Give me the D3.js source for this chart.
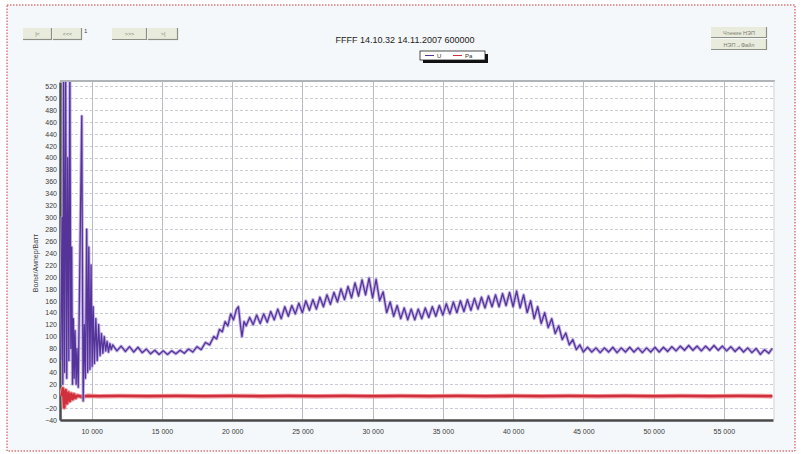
<!DOCTYPE html>
<html>
<head>
<meta charset="utf-8">
<script src="https://cdn.jsdelivr.net/npm/d3@7"></script>
<style>
  html, body { margin: 0; padding: 0; background: #ffffff; }
  svg { display: block; font-family: "Liberation Sans", Arial, sans-serif; }
</style>
</head>
<body>
<svg id="chart" width="801" height="454"></svg>
<script>
// ---- data ----
const chartTitle = "FFFF 14.10.32 14.11.2007 600000";
const yAxisTitle = "Вольт/Ампер/Ватт";
const seriesNames = ["U", "Pa"];

const xTicks = [10000, 15000, 20000, 25000, 30000, 35000, 40000, 45000, 50000, 55000];
const xTickLabels = ["10 000", "15 000", "20 000", "25 000", "30 000", "35 000", "40 000", "45 000", "50 000", "55 000"];
const yTicks = [-40, -20, 0, 20, 40, 60, 80, 100, 120, 140, 160, 180, 200, 220, 240, 260, 280, 300,
                320, 340, 360, 380, 400, 420, 440, 460, 480, 500, 520];

// voltage trace: [sample, value]
const seriesU = [
  [7800, 60], [7900, 300], [7950, 20], [8000, 540], [8080, 40], [8150, 560], [8230, 30], [8300, 400],
  [8380, 60], [8450, 560], [8520, 80], [8580, 250], [8640, 20], [8700, 130], [8760, 30], [8820, 110],
  [8900, 20], [8960, 80], [9050, 15], [9150, 200], [9300, 470], [9360, 150], [9400, -8], [9480, 120],
  [9560, 30], [9650, 280], [9720, 40], [9800, 250], [9880, 45], [9960, 220], [10040, 50], [10110, 150],
  [10200, 55], [10300, 130], [10400, 60], [10500, 120], [10600, 68], [10700, 105], [10800, 72], [10900, 100],
  [11000, 76], [11100, 92], [11200, 74], [11300, 88], [11400, 78],
  [11500, 86], [11800, 76], [12100, 84], [12400, 75], [12700, 83], [13000, 74], [13300, 82], [13600, 73],
  [13900, 79], [14200, 71], [14500, 77], [14800, 70], [15100, 76], [15400, 70], [15700, 76], [16000, 71],
  [16300, 77], [16600, 72], [16900, 79], [17200, 74], [17500, 83], [17800, 78], [18100, 90], [18400, 86],
  [18700, 100], [18900, 96], [19100, 112], [19300, 108], [19500, 125], [19700, 118], [19900, 138], [20100, 128],
  [20300, 145], [20450, 150], [20600, 118], [20700, 100], [20850, 125], [21000, 118], [21250, 132], [21500, 120],
  [21750, 136], [22000, 122], [22250, 138], [22500, 124], [22750, 142], [23000, 128], [23250, 146], [23500, 130],
  [23750, 150], [24000, 134], [24250, 152], [24500, 138], [24750, 156], [25000, 140], [25250, 160], [25500, 144],
  [25750, 162], [26000, 146], [26250, 166], [26500, 150], [26750, 170], [27000, 154], [27250, 174], [27500, 158],
  [27750, 180], [28000, 162], [28250, 184], [28500, 165], [28750, 190], [29000, 168], [29250, 195], [29500, 170],
  [29750, 198], [30000, 165], [30250, 196], [30500, 160], [30750, 175], [31000, 140], [31250, 158], [31500, 134],
  [31750, 152], [32000, 130], [32250, 148], [32500, 128], [32750, 146], [33000, 128], [33250, 146], [33500, 130],
  [33750, 148], [34000, 132], [34250, 150], [34500, 134], [34750, 152], [35000, 136], [35250, 155], [35500, 138],
  [35750, 158], [36000, 140], [36250, 160], [36500, 142], [36750, 162], [37000, 144], [37250, 164], [37500, 146],
  [37750, 166], [38000, 148], [38250, 168], [38500, 150], [38750, 170], [39000, 150], [39250, 172], [39500, 152],
  [39750, 174], [40000, 150], [40250, 176], [40500, 148], [40750, 170], [41000, 140], [41250, 160], [41500, 130],
  [41750, 150], [42000, 122], [42250, 140], [42500, 115], [42750, 130], [43000, 105], [43250, 118], [43500, 95],
  [43750, 106], [44000, 86], [44250, 95], [44500, 78], [44750, 86], [45000, 74],
  [45300, 82], [45600, 74], [45900, 81], [46200, 73], [46500, 81], [46800, 74], [47100, 82], [47400, 73],
  [47700, 81], [48000, 74], [48300, 82], [48600, 74], [48900, 81], [49200, 73], [49500, 81], [49800, 74],
  [50100, 82], [50400, 74], [50700, 82], [51000, 75], [51300, 83], [51600, 76], [51900, 84], [52200, 77],
  [52500, 85], [52800, 77], [53100, 84], [53400, 76], [53700, 84], [54000, 77], [54300, 85], [54600, 77],
  [54900, 84], [55200, 76], [55500, 83], [55800, 75], [56100, 82], [56400, 74], [56700, 81], [57000, 73],
  [57300, 80], [57600, 70], [57900, 78], [58200, 72], [58450, 80]
];

// power trace: [sample, value]
const seriesPa = [
  [7850, 0], [7950, 13], [8050, -19], [8150, 10], [8250, -12], [8350, 6], [8450, -8], [8550, 4],
  [8650, -5], [8750, 3], [8850, -3], [9000, 1], [9300, -1], [9700, 0.5], [10500, 0], [12000, 0.4],
  [14000, 0], [16000, 0.4], [18000, 0], [20000, 0.4], [22000, 0], [24000, 0.4], [26000, 0], [28000, 0.4],
  [30000, 0], [32000, 0.4], [34000, 0], [36000, 0.4], [38000, 0], [40000, 0.4], [42000, 0], [44000, 0.4],
  [46000, 0], [48000, 0.4], [50000, 0], [52000, 0.4], [54000, 0], [56000, 0.4], [58450, 0]
];

// ---- layout ----
const svg = d3.select("#chart");
const plot = { left: 60, right: 773, top: 82, bottom: 420 };

const x = d3.scaleLinear().domain([7750, 58500]).range([plot.left, plot.right]);
const y = d3.scaleLinear().domain([-40, 527]).range([plot.bottom, plot.top]);

// panel background and dotted outline
svg.append("rect").attr("x", 7).attr("y", 5).attr("width", 788).attr("height", 446)
  .attr("fill", "#f5f8fa").attr("stroke", "#c8383e").attr("stroke-width", 1)
  .attr("stroke-dasharray", "1.5,1.5");

// plot area
svg.append("rect").attr("x", plot.left).attr("y", plot.top)
  .attr("width", plot.right - plot.left).attr("height", plot.bottom - plot.top)
  .attr("fill", "#ffffff");

const defs = svg.append("defs");
defs.append("clipPath").attr("id", "plotClip").append("rect")
  .attr("x", plot.left).attr("y", plot.top)
  .attr("width", plot.right - plot.left).attr("height", plot.bottom - plot.top);

// horizontal grid
svg.append("g").selectAll("line").data(yTicks).join("line")
  .attr("x1", plot.left).attr("x2", plot.right)
  .attr("y1", d => Math.round(y(d)) + 0.5).attr("y2", d => Math.round(y(d)) + 0.5)
  .attr("stroke", "#c9ccd6").attr("stroke-width", 1).attr("stroke-dasharray", "3,2");

// vertical grid
svg.append("g").selectAll("line").data(xTicks).join("line")
  .attr("x1", d => Math.round(x(d)) + 0.5).attr("x2", d => Math.round(x(d)) + 0.5)
  .attr("y1", plot.top).attr("y2", plot.bottom)
  .attr("stroke", "#b9bcc2").attr("stroke-width", 1);

// frame
svg.append("line").attr("x1", plot.left).attr("x2", plot.right + 2)
  .attr("y1", plot.top - 1).attr("y2", plot.top - 1)
  .attr("stroke", "#b0b3b8").attr("stroke-width", 2);
svg.append("line").attr("x1", plot.right + 1).attr("x2", plot.right + 1)
  .attr("y1", plot.top - 1).attr("y2", plot.bottom)
  .attr("stroke", "#d4d6da").attr("stroke-width", 1);

// axes
const xAxis = d3.axisBottom(x).tickValues(xTicks).tickSize(0).tickPadding(9)
  .tickFormat((d, i) => xTickLabels[i]);
const yAxis = d3.axisLeft(y).tickValues(yTicks).tickSize(0).tickPadding(3);

const gx = svg.append("g").attr("transform", `translate(0,${plot.bottom})`).call(xAxis);
const gy = svg.append("g").attr("transform", `translate(${plot.left},0)`).call(yAxis);
[gx, gy].forEach(g => {
  g.select(".domain").attr("stroke", "#4a4a4a").attr("stroke-width", 2.5);
  g.selectAll("text").attr("fill", "#3a3a3a").style("font-size", "7px")
    .style("font-family", "'Liberation Sans', Arial, sans-serif");
});

// axis title
svg.append("text")
  .attr("transform", `translate(38,${(plot.top + plot.bottom) / 2 + 12}) rotate(-90)`)
  .attr("text-anchor", "middle").attr("fill", "#3a3a3a").style("font-size", "7px")
  .text(yAxisTitle);

// series
const line = d3.line().x(d => x(d[0])).y(d => y(d[1]));
const gData = svg.append("g").attr("clip-path", "url(#plotClip)");

gData.append("path").datum(seriesPa).attr("d", line).attr("fill", "none")
  .attr("stroke", "#ec8e94").attr("stroke-width", 4.5).attr("stroke-linejoin", "round");
gData.append("path").datum(seriesPa).attr("d", line).attr("fill", "none")
  .attr("stroke", "#d0303c").attr("stroke-width", 2.4).attr("stroke-linejoin", "round");

gData.append("path").datum(seriesU).attr("d", line).attr("fill", "none")
  .attr("stroke", "#b9a3e0").attr("stroke-width", 3.2).attr("stroke-linejoin", "round")
  .attr("opacity", 0.85);
gData.append("path").datum(seriesU).attr("d", line).attr("fill", "none")
  .attr("stroke", "#55349a").attr("stroke-width", 1.3).attr("stroke-linejoin", "round");

// title
svg.append("text").attr("x", 405).attr("y", 43).attr("text-anchor", "middle")
  .attr("fill", "#222").style("font-size", "9px").text(chartTitle);

// legend box with drop shadow
const lg = svg.append("g").attr("transform", "translate(420,51)");
lg.append("rect").attr("x", 3).attr("y", 3).attr("width", 65).attr("height", 9).attr("fill", "#111");
lg.append("rect").attr("x", 0).attr("y", 0).attr("width", 65).attr("height", 9)
  .attr("fill", "#ffffff").attr("stroke", "#222").attr("stroke-width", 0.8);
const legendColors = ["#55349a", "#d0303c"];
seriesNames.forEach((name, i) => {
  const ox = 5 + i * 28;
  lg.append("line").attr("x1", ox).attr("x2", ox + 9).attr("y1", 4.5).attr("y2", 4.5)
    .attr("stroke", legendColors[i]).attr("stroke-width", 1);
  lg.append("text").attr("x", ox + 12).attr("y", 7).attr("fill", "#333")
    .style("font-size", "6px").text(name);
});

// toolbar buttons
function button(bx, by, bw, bh, label) {
  const g = svg.append("g").attr("transform", `translate(${bx},${by})`);
  g.append("rect").attr("width", bw).attr("height", bh).attr("fill", "#e9ecdc");
  g.append("line").attr("x1", 0).attr("x2", bw).attr("y1", bh - 0.5).attr("y2", bh - 0.5)
    .attr("stroke", "#8c8f86").attr("stroke-width", 1.2);
  g.append("line").attr("x1", bw - 0.5).attr("x2", bw - 0.5).attr("y1", 0).attr("y2", bh)
    .attr("stroke", "#8c8f86").attr("stroke-width", 1.2);
  g.append("text").attr("x", bw / 2).attr("y", bh / 2 + 2).attr("text-anchor", "middle")
    .attr("fill", "#7a7d74").style("font-size", "5.5px").text(label);
}
button(23, 28, 29, 12, "|<");
button(53, 28, 29, 12, "<<<");
svg.append("text").attr("x", 84).attr("y", 33).attr("fill", "#444").style("font-size", "6px").text("1");
button(112, 28, 35, 12, ">>>");
button(148, 28, 30, 12, ">|");
button(711, 27, 56, 11, "Чтение НЭП");
button(711, 39, 56, 11, "НЭП→Файл");
</script>
</body>
</html>
